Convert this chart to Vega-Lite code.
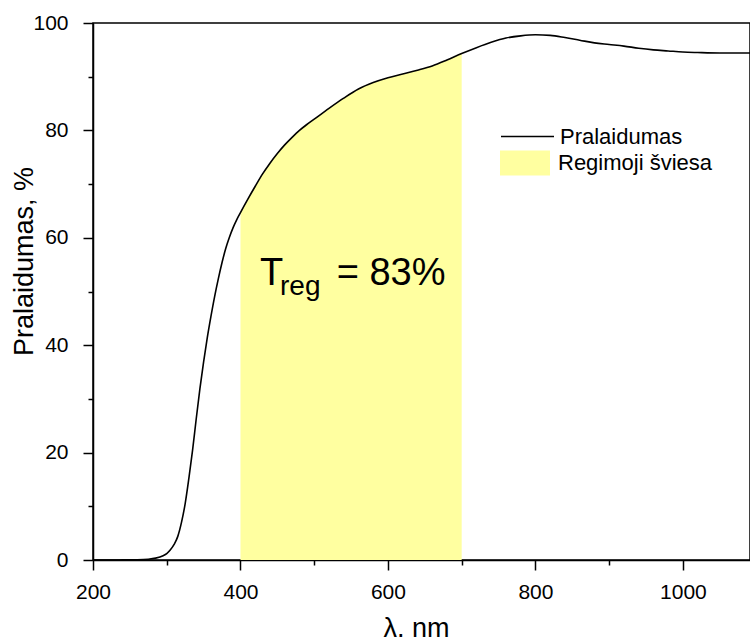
{
  "$schema": "https://vega.github.io/schema/vega-lite/v6.json",
  "width": 657,
  "height": 537,
  "autosize": {"type": "none"},
  "padding": {"left": 93, "top": 23, "right": 0, "bottom": 77},
  "background": "white",
  "config": {
    "font": "Liberation Sans",
    "view": {"stroke": "black", "strokeWidth": 1.5},
    "axis": {
      "domainColor": "black",
      "domainWidth": 1.5,
      "tickColor": "black",
      "tickWidth": 1.5,
      "grid": false,
      "labelColor": "black",
      "titleColor": "black",
      "labelFont": "Liberation Sans",
      "titleFont": "Liberation Sans",
      "labelFontSize": 21,
      "titleFontSize": 27,
      "titleFontWeight": "normal",
      "labelFlush": false,
      "labelOverlap": false
    },
    "legend": {"labelFont": "Liberation Sans", "labelFontSize": 22, "labelColor": "black"}
  },
  "datasets": {
    "curve": [
      {"lambda": 200, "T": 0}, {"lambda": 220, "T": 0}, {"lambda": 240, "T": 0.02},
      {"lambda": 260, "T": 0.05}, {"lambda": 275, "T": 0.15}, {"lambda": 285, "T": 0.35},
      {"lambda": 295, "T": 0.8}, {"lambda": 300, "T": 1.2}, {"lambda": 305, "T": 1.9},
      {"lambda": 310, "T": 2.9}, {"lambda": 315, "T": 4.4}, {"lambda": 320, "T": 7.0},
      {"lambda": 325, "T": 10.5}, {"lambda": 330, "T": 15.2}, {"lambda": 335, "T": 20.4},
      {"lambda": 340, "T": 26.3}, {"lambda": 345, "T": 31.9}, {"lambda": 350, "T": 36.9},
      {"lambda": 355, "T": 41.4}, {"lambda": 360, "T": 45.4}, {"lambda": 365, "T": 49.1},
      {"lambda": 370, "T": 52.4}, {"lambda": 375, "T": 55.4}, {"lambda": 380, "T": 58.0},
      {"lambda": 385, "T": 60.1}, {"lambda": 390, "T": 61.9}, {"lambda": 395, "T": 63.4},
      {"lambda": 400, "T": 64.7}, {"lambda": 410, "T": 67.2}, {"lambda": 420, "T": 69.6},
      {"lambda": 430, "T": 71.9}, {"lambda": 440, "T": 73.9}, {"lambda": 450, "T": 75.7},
      {"lambda": 460, "T": 77.3}, {"lambda": 470, "T": 78.7}, {"lambda": 480, "T": 80.0},
      {"lambda": 490, "T": 81.1}, {"lambda": 500, "T": 82.1}, {"lambda": 520, "T": 84.1},
      {"lambda": 540, "T": 86.0}, {"lambda": 560, "T": 87.7}, {"lambda": 580, "T": 88.9},
      {"lambda": 600, "T": 89.8}, {"lambda": 620, "T": 90.5}, {"lambda": 640, "T": 91.2},
      {"lambda": 660, "T": 92.0}, {"lambda": 680, "T": 93.1}, {"lambda": 700, "T": 94.3},
      {"lambda": 720, "T": 95.4}, {"lambda": 740, "T": 96.4}, {"lambda": 760, "T": 97.2},
      {"lambda": 780, "T": 97.6}, {"lambda": 800, "T": 97.8}, {"lambda": 820, "T": 97.7},
      {"lambda": 840, "T": 97.3}, {"lambda": 860, "T": 96.8}, {"lambda": 880, "T": 96.3},
      {"lambda": 900, "T": 96}, {"lambda": 920, "T": 95.7}, {"lambda": 940, "T": 95.3},
      {"lambda": 960, "T": 95.0}, {"lambda": 980, "T": 94.8}, {"lambda": 1000, "T": 94.6},
      {"lambda": 1020, "T": 94.5}, {"lambda": 1050, "T": 94.4}, {"lambda": 1091, "T": 94.4}
    ]
  },
  "layer": [
    {
      "data": {"name": "curve"},
      "transform": [{"filter": "datum.lambda >= 400 && datum.lambda <= 700"}],
      "mark": {"type": "area", "interpolate": "monotone"},
      "encoding": {
        "x": {"field": "lambda", "type": "quantitative"},
        "y": {"field": "T", "type": "quantitative"},
        "fill": {
          "datum": "Regimoji šviesa",
          "scale": {"domain": ["Regimoji šviesa"], "range": ["#ffffa0"]},
          "legend": {
            "orient": "none", "legendX": 407, "legendY": 115,
            "title": null, "padding": 0,
            "symbolType": "M-1,-0.5H1V0.5H-1Z", "symbolSize": 2500,
            "symbolStrokeWidth": 0, "symbolOpacity": 1, "labelOffset": 8
          }
        }
      }
    },
    {
      "data": {"name": "curve"},
      "mark": {"type": "line", "interpolate": "monotone", "strokeWidth": 1.6},
      "encoding": {
        "x": {
          "field": "lambda", "type": "quantitative",
          "scale": {"domain": [200, 1091], "nice": false, "zero": false},
          "axis": {
            "title": "λ, nm",
            "format": "d",
            "values": [200, 300, 400, 500, 600, 700, 800, 900, 1000],
            "labelExpr": "datum.value % 200 === 0 ? datum.label : ''",
            "tickSize": {"condition": {"test": "datum.value % 200 === 0", "value": 10}, "value": 5},
            "labelPadding": 11,
            "labelBaseline": "top",
            "titleX": 323, "titleY": 76, "titleBaseline": "alphabetic", "titleAlign": "center"
          }
        },
        "y": {
          "field": "T", "type": "quantitative",
          "scale": {"domain": [0, 100], "nice": false},
          "axis": {
            "title": "Pralaidumas, %",
            "values": [0, 10, 20, 30, 40, 50, 60, 70, 80, 90, 100],
            "labelExpr": "datum.value % 20 === 0 ? datum.label : ''",
            "tickSize": {"condition": {"test": "datum.value % 20 === 0", "value": 10}, "value": 5},
            "labelPadding": 15,
            "titleX": -61, "titleY": 238, "titleBaseline": "alphabetic", "titleAlign": "center", "titleAngle": -90
          }
        },
        "stroke": {
          "datum": "Pralaidumas",
          "scale": {"domain": ["Pralaidumas"], "range": ["black"]},
          "legend": {
            "orient": "none", "legendX": 407, "legendY": 86,
            "title": null, "padding": 0,
            "symbolType": "stroke", "symbolSize": 2809,
            "symbolStrokeWidth": 1.6, "labelOffset": 5
          }
        }
      }
    },
    {
      "data": {"values": [{"lambda": 426.4, "T": 51.2, "txt": "T"}]},
      "mark": {"type": "text", "align": "left", "baseline": "alphabetic", "fontSize": 38, "font": "Liberation Sans", "color": "black"},
      "encoding": {
        "x": {"field": "lambda", "type": "quantitative"},
        "y": {"field": "T", "type": "quantitative"},
        "text": {"field": "txt"}
      }
    },
    {
      "data": {"values": [{"lambda": 453.6, "T": 49.35, "txt": "reg"}]},
      "mark": {"type": "text", "align": "left", "baseline": "alphabetic", "fontSize": 28, "font": "Liberation Sans", "color": "black"},
      "encoding": {
        "x": {"field": "lambda", "type": "quantitative"},
        "y": {"field": "T", "type": "quantitative"},
        "text": {"field": "txt"}
      }
    },
    {
      "data": {"values": [{"lambda": 530.4, "T": 51.2, "txt": "= 83%"}]},
      "mark": {"type": "text", "align": "left", "baseline": "alphabetic", "fontSize": 38, "font": "Liberation Sans", "color": "black"},
      "encoding": {
        "x": {"field": "lambda", "type": "quantitative"},
        "y": {"field": "T", "type": "quantitative"},
        "text": {"field": "txt"}
      }
    }
  ]
}
